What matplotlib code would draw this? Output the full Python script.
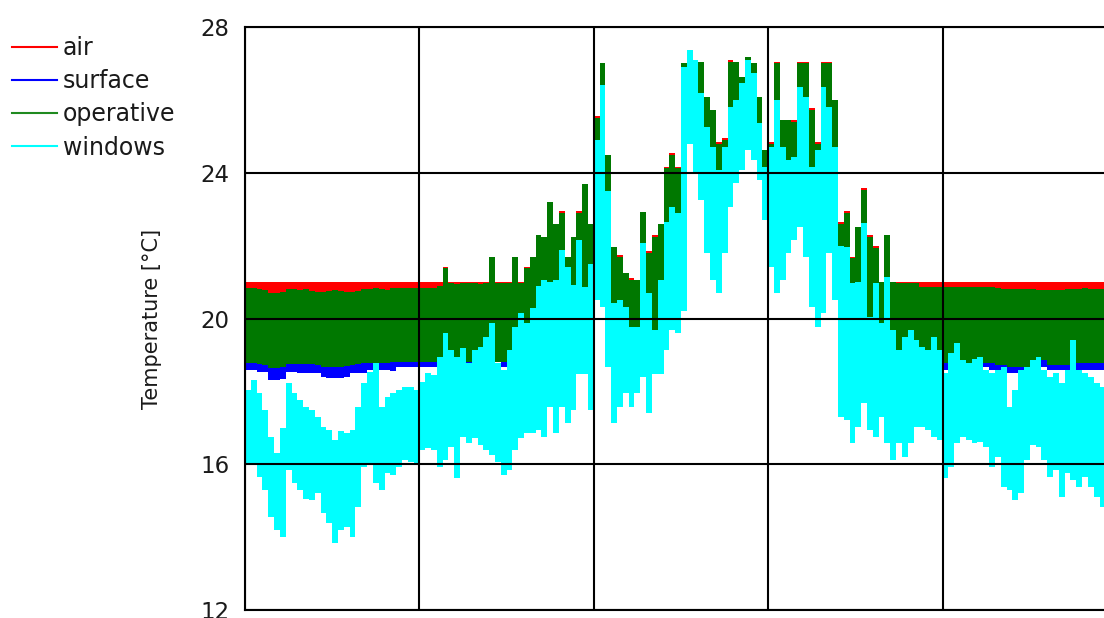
import matplotlib
matplotlib.use("Agg")
import matplotlib.pyplot as plt
import numpy as np
from matplotlib.lines import Line2D

# daily ranges, one sample every 2 days starting at day 0
air_hi = [
    21.0, 21.0, 21.0, 21.0, 21.0, 21.0, 21.0, 21.0, 21.0, 21.0, 21.0, 21.0, 21.0, 21.0, 21.0, 21.0,
    21.0, 21.0, 21.0, 21.0, 21.0, 21.0, 21.0, 21.0, 21.0, 21.0, 21.0, 21.0, 21.0, 21.0, 21.0, 21.0,
    21.0, 21.0, 21.4, 21.0, 21.0, 21.0, 21.0, 21.0, 21.0, 21.0, 21.7, 21.0, 21.0, 21.0, 21.7, 21.0,
    21.4, 21.7, 22.3,
    22.24, 23.2, 22.6, 22.95, 21.7, 22.24, 22.95, 23.7, 22.6, 25.55, 27.0, 24.5, 21.97, 21.75, 21.25,
    21.1, 21.06, 22.93, 21.85, 22.3, 22.6, 24.17, 24.55, 24.17, 27.0,
    27.05, 27.05, 27.05, 26.09, 25.72, 24.85, 24.95, 27.1, 27.05, 26.64, 27.19, 27.0, 26.09, 24.62,
    24.85, 27.05, 25.45, 25.45, 25.45, 27.05, 27.05, 25.77, 24.85, 27.05, 27.05,
    26.0,
    22.65, 22.94, 21.7, 22.5, 23.58, 22.3, 21.98, 21.01, 22.29, 21.01,
    21.0, 21.0, 21.0, 21.0, 21.0, 21.0, 21.0, 21.0, 21.0, 21.0, 21.0, 21.0, 21.0, 21.0, 21.0, 21.0,
    21.0, 21.0, 21.0, 21.0, 21.0, 21.0, 21.0, 21.0, 21.0, 21.0, 21.0, 21.0, 21.0, 21.0, 21.0, 21.0,
    21.0, 21.0, 21.0, 21.0,
]
air_lo = [
    19.3, 19.3, 19.3, 19.3, 19.3, 19.3, 19.3, 19.3, 19.3, 19.3, 19.3, 19.3, 19.3, 19.3, 19.3, 19.3,
    19.3, 19.3, 19.3, 19.3, 19.3, 19.3, 19.3, 19.3, 19.3, 19.3, 19.3, 19.3, 19.3, 19.3, 19.3, 19.3,
    19.3, 19.3, 19.3, 19.3, 19.3, 19.3, 19.3, 19.3, 19.3, 19.3, 19.3, 19.3, 19.3, 19.3, 19.3, 19.3,
    19.3, 19.3, 19.4,
    19.6, 19.7, 19.7, 19.8, 19.7, 19.7, 20.1, 19.9, 19.9, 21.8, 22.3, 20.8, 19.9, 19.9, 19.9,
    19.8, 19.8, 20.1, 19.9, 19.8, 20.1, 20.7, 21.1, 21.1, 22.1,
    25.3, 24.8, 24.3, 23.1, 22.5, 22.1, 22.8, 24.1, 24.6, 24.9, 25.3, 25.3, 24.5, 23.5,
    22.7, 22.6, 22.5, 22.9, 23.1, 23.7, 23.3, 21.9, 21.5, 22.1, 22.8,
    21.8,
    19.4, 19.4, 19.4, 19.4, 19.4, 19.4, 19.4, 19.4, 19.4, 19.4,
    19.3, 19.3, 19.3, 19.3, 19.3, 19.3, 19.3, 19.3, 19.3, 19.3, 19.3, 19.3, 19.3, 19.3, 19.3, 19.3,
    19.3, 19.3, 19.3, 19.3, 19.3, 19.3, 19.3, 19.3, 19.3, 19.3, 19.3, 19.3, 19.3, 19.3, 19.3, 19.3,
    19.3, 19.3, 19.3, 19.3,
]
surface_hi = [
    20.3, 20.3, 20.3, 20.3, 20.3, 20.3, 20.3, 20.3, 20.3, 20.3, 20.3, 20.3, 20.3, 20.3, 20.3, 20.3,
    20.3, 20.3, 20.3, 20.3, 20.3, 20.3, 20.3, 20.3, 20.3, 20.3, 20.3, 20.3, 20.3, 20.3, 20.3, 20.3,
    20.3, 20.3, 20.3, 20.3, 20.3, 20.3, 20.3, 20.3, 20.3, 20.3, 20.3, 20.3, 20.3, 20.3, 20.4, 20.4,
    20.4, 20.4, 20.4,
    21.9, 22.9, 22.3, 22.6, 21.4, 21.9, 22.6, 23.4, 22.3, 25.2, 26.7, 24.2, 21.7, 21.4, 20.9,
    20.8, 20.8, 22.6, 21.5, 21.9, 22.3, 23.8, 24.2, 23.8, 26.7,
    26.8, 26.8, 26.8, 25.8, 25.4, 24.5, 24.6, 26.8, 26.8, 26.3, 26.9, 26.7, 25.8, 24.3,
    24.5, 26.7, 25.1, 25.1, 25.1, 26.7, 26.7, 25.4, 24.5, 26.7, 26.7,
    25.7,
    22.3, 22.6, 21.3, 22.2, 23.2, 21.9, 21.6, 20.7, 22.0, 20.7,
    20.3, 20.3, 20.3, 20.3, 20.3, 20.3, 20.3, 20.3, 20.3, 20.3, 20.3, 20.3, 20.3, 20.3, 20.3, 20.3,
    20.3, 20.3, 20.3, 20.3, 20.3, 20.3, 20.3, 20.3, 20.3, 20.3, 20.3, 20.3, 20.3, 20.3, 20.3, 20.3,
    20.3, 20.3, 20.3, 20.3,
]
surface_lo = [
    18.59, 18.59, 18.54, 18.54, 18.31, 18.31, 18.35, 18.54, 18.54, 18.5, 18.5, 18.5, 18.5, 18.4,
    18.36, 18.36, 18.38, 18.4, 18.5, 18.5, 18.5, 18.59, 18.59, 18.6, 18.6, 18.56,
    18.68, 18.68, 18.68, 18.68, 18.68, 18.68, 18.68, 18.68, 18.75, 18.75, 18.62, 18.75, 18.72,
    18.72, 18.8, 18.8, 18.8, 18.8, 18.68, 18.68, 18.85, 18.9, 18.95, 19.0, 19.1,
    19.4, 19.5, 19.5, 19.6, 19.5, 19.5, 19.9, 19.7, 19.7, 21.6, 22.1, 20.6, 19.7, 19.7, 19.7,
    19.6, 19.6, 19.9, 19.7, 19.6, 19.9, 20.5, 20.9, 20.9, 21.9,
    25.1, 24.6, 24.1, 22.9, 22.3, 21.9, 22.6, 23.9, 24.4, 24.7, 25.1, 25.1, 24.3, 23.3,
    22.5, 22.4, 22.3, 22.7, 22.9, 23.5, 23.1, 21.7, 21.3, 21.9, 22.6,
    21.6,
    19.3, 19.3, 19.3, 19.3, 19.3, 19.2, 19.2, 19.2, 19.1, 19.1, 19.1, 18.85, 18.85, 18.85, 18.85,
    18.86, 18.85, 18.85,
    18.58, 18.72, 18.72, 18.72, 18.72, 18.72,
    18.68, 18.68, 18.59, 18.59, 18.59, 18.5, 18.5, 18.5, 18.5, 18.68, 18.68, 18.68, 18.59, 18.59,
    18.59, 18.54, 18.54, 18.59, 18.59, 18.59, 18.59, 18.59,
]
operative_hi = [
    20.83, 20.83, 20.8, 20.78, 20.69, 20.69, 20.72, 20.8, 20.8, 20.78, 20.8, 20.76, 20.74, 20.74,
    20.76, 20.78, 20.76, 20.74, 20.74, 20.76, 20.8, 20.8, 20.83, 20.8, 20.78, 20.83,
    20.83, 20.83, 20.83, 20.83, 20.83, 20.85, 20.85, 20.9, 21.38, 20.97, 20.95, 20.97, 20.97,
    20.97, 20.95, 20.97, 21.7, 20.97, 20.97, 20.97, 21.7, 20.97, 21.38, 21.7, 22.3,
    22.24, 23.2, 22.6, 22.9, 21.7, 22.24, 22.9, 23.7, 22.6, 25.5, 27.0, 24.5, 21.97, 21.7, 21.25,
    21.06, 21.06, 22.93, 21.8, 22.24, 22.6, 24.12, 24.5, 24.12, 27.0,
    27.05, 27.05, 27.05, 26.09, 25.72, 24.8, 24.9, 27.05, 27.05, 26.64, 27.19, 27.0, 26.09, 24.62,
    24.8, 27.0, 25.45, 25.45, 25.4, 27.0, 27.0, 25.72, 24.8, 27.0, 27.0,
    26.0,
    22.6, 22.89, 21.65, 22.5, 23.53, 22.25, 21.93, 21.01, 22.29, 21.0, 20.97, 20.97, 20.97, 20.97,
    20.87, 20.87, 20.87, 20.87, 20.87, 20.87, 20.87, 20.87, 20.87, 20.87,
    20.87, 20.87, 20.87, 20.85, 20.82, 20.82, 20.82, 20.82, 20.82, 20.8, 20.78, 20.78, 20.78,
    20.78, 20.78, 20.82, 20.82, 20.82, 20.84, 20.82, 20.82, 20.82,
]
operative_lo = [
    18.77, 18.77, 18.75, 18.72, 18.63, 18.63, 18.66, 18.74, 18.76, 18.75, 18.74, 18.74, 18.73,
    18.68, 18.68, 18.68, 18.68, 18.69, 18.72, 18.74, 18.77, 18.77, 18.79, 18.79, 18.79, 18.8,
    18.81, 18.81, 18.81, 18.81, 18.81, 18.81, 18.81, 18.81, 18.81, 18.81, 18.81, 18.81, 18.81,
    18.81, 18.81, 18.81, 18.81, 18.81, 18.81, 18.81, 18.85, 18.9, 18.95, 19.0, 19.1,
    19.3, 19.4, 19.4, 19.5, 19.4, 19.4, 19.8, 19.6, 19.6, 21.5, 22.0, 20.5, 19.6, 19.6, 19.6,
    19.5, 19.5, 19.8, 19.6, 19.5, 19.8, 20.4, 20.8, 20.8, 21.8,
    25.0, 24.5, 24.0, 22.8, 22.2, 21.8, 22.5, 23.8, 24.3, 24.6, 25.0, 25.0, 24.2, 23.2,
    22.4, 22.3, 22.2, 22.6, 22.8, 23.4, 23.0, 21.6, 21.2, 21.8, 22.5,
    21.5,
    19.2, 19.2, 19.2, 19.2, 19.2, 19.1, 19.1, 19.1, 19.0, 19.0, 18.95, 18.95, 18.95, 18.95,
    18.9, 18.9, 18.9, 18.85,
    18.77, 18.77, 18.77, 18.77, 18.77, 18.77,
    18.77, 18.77, 18.77, 18.72, 18.72, 18.68, 18.68, 18.68, 18.68, 18.86, 18.86, 18.86, 18.72,
    18.72, 18.72, 18.72, 18.77, 18.77, 18.77, 18.77, 18.77, 18.77,
]
windows_hi = [
    18.04, 18.31, 17.95, 17.49, 16.76, 16.3, 17.0, 18.22, 17.95, 17.76, 17.58, 17.49, 17.3, 17.03,
    16.94, 16.67, 16.9, 16.85, 16.94, 17.58, 18.22, 18.54, 18.77, 17.58, 17.85, 17.95,
    18.04, 18.13, 18.13, 18.04, 18.27, 18.5, 18.45, 18.95, 19.59, 19.13, 18.95, 19.18, 18.77,
    19.13, 19.23, 19.5, 19.87, 18.77, 18.59, 19.13, 19.78, 20.14, 19.87, 20.28, 20.9,
    21.06, 21.0, 21.06, 21.88, 21.42, 20.92, 22.15, 20.87, 21.5, 24.9, 26.41, 23.5, 20.42, 20.51,
    20.32, 19.78, 19.78, 22.06, 20.69, 19.68, 21.06, 22.66, 23.07, 22.89, 26.9,
    27.37, 27.1, 26.18, 25.26, 24.72, 24.08, 24.72, 25.81, 26.0, 26.45, 27.1, 26.73, 25.36, 24.17,
    24.72, 26.0, 24.72, 24.35, 24.44, 26.36, 26.09, 24.17, 24.63, 26.36, 25.8,
    24.7,
    22.0, 21.97, 20.97, 21.0, 22.61, 20.05, 20.97, 19.87, 21.15, 19.69, 19.14, 19.5, 19.69, 19.41,
    19.23, 19.14, 19.5, 19.14, 18.5, 19.04, 19.32, 18.86, 18.77, 18.9,
    18.95, 18.59, 18.5, 18.59, 18.68, 17.58, 18.04, 18.59, 18.68, 18.86, 18.95, 18.59, 18.4, 18.5,
    18.22, 18.59, 19.41, 18.59, 18.5, 18.4, 18.22, 18.13,
]
windows_lo = [
    16.02, 16.02, 15.66, 15.29, 14.56, 14.2, 14.01, 15.84, 15.48, 15.29, 15.06, 15.02, 15.2, 14.65,
    14.38, 13.83, 14.2, 14.29, 14.01, 14.84, 15.93, 16.02, 15.48, 15.29, 15.75, 15.7,
    15.93, 16.12, 16.07, 16.03, 16.39, 16.44, 16.39, 15.93, 16.12, 16.48, 15.61, 16.76, 16.57,
    16.71, 16.53, 16.39, 16.25, 16.07, 15.7, 15.84, 16.39, 16.71, 16.85, 16.85, 16.94,
    16.75, 17.58, 16.85, 17.58, 17.12, 17.49, 18.49, 18.49, 17.49, 20.51, 20.32, 18.68, 17.12,
    17.58, 17.95, 17.58, 17.95, 18.4, 17.4, 18.49, 18.49, 19.13, 19.68, 19.59, 20.2,
    24.8, 23.98, 23.25, 21.79, 21.06, 20.69, 21.79, 23.07, 23.71, 24.08, 24.63, 24.35, 23.8, 22.7,
    21.42, 20.69, 21.06, 21.79, 22.15, 22.52, 21.7, 20.32, 19.78, 20.14, 21.8,
    20.5,
    17.31, 17.21, 16.57, 17.03, 17.67, 16.94, 16.76, 17.31, 16.57, 16.12, 16.57, 16.21, 16.57,
    17.03, 17.03, 16.94, 16.76, 16.67, 15.61, 15.93, 16.57, 16.76, 16.67, 16.57,
    16.62, 16.48, 15.93, 16.21, 15.38, 15.29, 15.02, 15.2, 16.12, 16.53, 16.48, 16.12, 15.66,
    15.84, 15.11, 15.75, 15.57, 15.38, 15.66, 15.38, 15.11, 14.84,
]

series = [
    ("air", "#ff0000", air_lo, air_hi),
    ("surface", "#0000ff", surface_lo, surface_hi),
    ("operative", "#007800", operative_lo, operative_hi),
    ("windows", "#00ffff", windows_lo, windows_hi),
]
legend_colors = ["#ff0000", "#0000ff", "#1f8a1f", "#00ffff"]

day_step = 2
days = np.arange(len(windows_hi)) * day_step

W, H = 1104, 618
fig = plt.figure(figsize=(W / 100, H / 100), dpi=100)
# the plot runs on past the right edge of the canvas
ax = fig.add_axes([245 / W, 8 / H, 6 * 174.4 / W, 583 / H])

for name, color, lo, hi in series:
    lo = np.asarray(lo)
    hi = np.asarray(hi)
    ax.bar(days, hi - lo, bottom=lo, width=day_step, align="edge",
           color=color, linewidth=0, antialiased=False)

ax.set_xlim(0, 360)
ax.set_ylim(12, 28)
ax.set_xticks(np.arange(0, 361, 60))
ax.set_yticks([12, 16, 20, 24, 28])
ax.tick_params(axis="x", length=0, labelbottom=False)
ax.tick_params(axis="y", length=0, pad=11, labelsize=16.5, labelcolor="#1a1a1a")
ax.set_axisbelow(False)
ax.grid(True, color="black", linewidth=1.5)
for spine in ax.spines.values():
    spine.set_color("black")
    spine.set_linewidth(1.5)

ax.set_ylabel("Temperature [°C]", fontsize=15, color="#1a1a1a")
ax.yaxis.set_label_coords(-83 / 1046.6, 0.5)

# legend in the left margin
for k, (name, color, lo, hi) in enumerate(series):
    y = 1 - (46.5 + 33.2 * k) / H
    fig.add_artist(Line2D([12 / W, 57 / W], [y, y], color=legend_colors[k], linewidth=1.5))
    fig.text(63 / W, y - 1.5 / H, name, fontsize=17, va="center", ha="left", color="#1a1a1a")

fig.savefig("out.png", dpi=100)
